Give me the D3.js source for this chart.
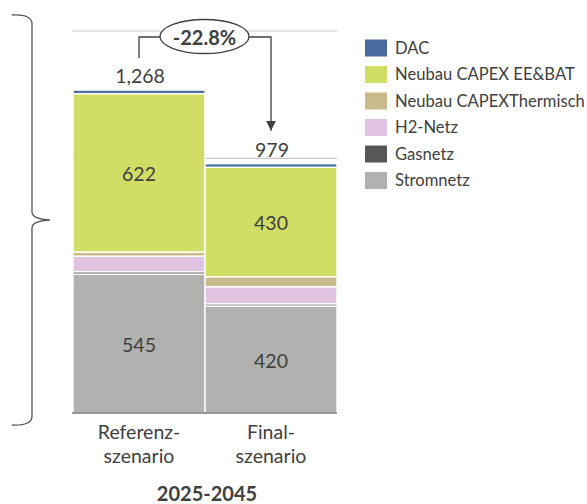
<!DOCTYPE html>
<html>
<head>
<meta charset="utf-8">
<script src="https://cdn.jsdelivr.net/npm/d3@7"></script>
<style>
  html, body { margin: 0; padding: 0; background: #fff; }
  svg { display: block; font-family: Lato, "Noto Sans", sans-serif; }
</style>
</head>
<body>
<svg id="chart" width="587" height="504"></svg>
<script>
// ---- data ----
const categories = ["Referenzszenario", "Finalszenario"];
const categoryLines = [["Referenz-", "szenario"], ["Final-", "szenario"]];
const seriesNames = ["Stromnetz", "Gasnetz", "H2-Netz", "Neubau CAPEXThermisch", "Neubau CAPEX EE&BAT", "DAC"];
const stromnetz = [545, 420];
const gasnetz = [10, 9];
const h2Netz = [61, 67];
const thermisch = [16, 39];
const eeBat = [622, 430];
const dac = [14, 14];
const totals = [1268, 979];
const gridTicks = [500, 1000, 1500];
const periodLabel = "2025-2045";
const legendOrder = ["DAC", "Neubau CAPEX EE&BAT", "Neubau CAPEXThermisch", "H2-Netz", "Gasnetz", "Stromnetz"];
const labelledSeries = ["Stromnetz", "Neubau CAPEX EE&BAT"];

const colors = {
  "DAC": "#4a6b9d",
  "Neubau CAPEX EE&BAT": "#d1de66",
  "Neubau CAPEXThermisch": "#c8bb89",
  "H2-Netz": "#e0c3e1",
  "Gasnetz": "#575757",
  "Stromnetz": "#b1b1b0"
};

const seriesValues = [stromnetz, gasnetz, h2Netz, thermisch, eeBat, dac];
const table = categories.map((c, i) => {
  const row = { category: c };
  seriesNames.forEach((s, j) => row[s] = seriesValues[j][i]);
  return row;
});

const svg = d3.select("#chart");
const textColor = "#404040";

const x = d3.scaleBand().domain(categories).range([73, 337]).paddingInner(0).paddingOuter(0);
const y = d3.scaleLinear().domain([0, 1500]).range([413, 31]);

// gridlines
svg.append("g").selectAll("line").data(gridTicks).join("line")
  .attr("x1", 72).attr("x2", 337)
  .attr("y1", d => y(d)).attr("y2", d => y(d))
  .attr("stroke", "#c8c8c8").attr("stroke-width", 1.2);

// stacked bars
const stack = d3.stack().keys(seriesNames);
const layers = stack(table);
const gBars = svg.append("g");
layers.forEach(layer => {
  gBars.append("g").selectAll("rect").data(layer).join("rect")
    .attr("x", d => x(d.data.category))
    .attr("width", x.bandwidth())
    .attr("y", d => y(d[1]))
    .attr("height", d => y(d[0]) - y(d[1]))
    .attr("fill", colors[layer.key])
    .attr("stroke", "#fff")
    .attr("stroke-width", 1.4);
});

// segment labels
layers.filter(l => labelledSeries.includes(l.key)).forEach(layer => {
  svg.append("g").selectAll("text").data(layer).join("text")
    .attr("x", d => x(d.data.category) + x.bandwidth() / 2)
    .attr("y", d => y((d[0] + d[1]) / 2) + 1)
    .attr("dy", "0.36em")
    .attr("text-anchor", "middle")
    .attr("font-size", 19.5)
    .attr("fill", textColor)
    .text(d => d3.format(",")(d[1] - d[0]));
});

// baseline
svg.append("line")
  .attr("x1", 72).attr("x2", 337).attr("y1", y(0)).attr("y2", y(0))
  .attr("stroke", "#777").attr("stroke-width", 1.6);

// totals
svg.append("g").selectAll("text").data(totals).join("text")
  .attr("x", (d, i) => x(categories[i]) + x.bandwidth() / 2 + 1)
  .attr("y", (d, i) => y(d) - 7)
  .attr("text-anchor", "middle")
  .attr("font-size", 19.5)
  .attr("fill", textColor)
  .text(d => d3.format(",")(d));

// change arrow
const cx1 = x(categories[0]) + x.bandwidth() / 2;
const cx2 = x(categories[1]) + x.bandwidth() / 2;
const arrowY = 37;
const ell = { cx: 204.5, cy: 36.5, rx: 44.5, ry: 17 };
svg.append("defs").append("marker")
  .attr("id", "arr").attr("viewBox", "0 0 10 10").attr("refX", 10).attr("refY", 5)
  .attr("markerWidth", 10).attr("markerHeight", 10).attr("markerUnits", "userSpaceOnUse")
  .attr("orient", "auto")
  .append("path").attr("d", "M0,0 L10,5 L0,10 Z").attr("fill", "#404040");
svg.append("path")
  .attr("d", `M${cx1},${y(totals[0]) - 32} V${arrowY} H${ell.cx - ell.rx}`)
  .attr("fill", "none").attr("stroke", "#404040").attr("stroke-width", 1.3);
svg.append("path")
  .attr("d", `M${ell.cx + ell.rx},${arrowY} H${cx2} V${y(totals[1]) - 33}`)
  .attr("fill", "none").attr("stroke", "#404040").attr("stroke-width", 1.3)
  .attr("marker-end", "url(#arr)");
svg.append("ellipse")
  .attr("cx", ell.cx).attr("cy", ell.cy).attr("rx", ell.rx).attr("ry", ell.ry)
  .attr("fill", "#fff").attr("stroke", "#404040").attr("stroke-width", 1.3);
svg.append("text")
  .attr("x", ell.cx).attr("y", ell.cy + 1).attr("dy", "0.36em")
  .attr("text-anchor", "middle").attr("font-size", 20).attr("font-weight", "bold")
  .attr("fill", textColor)
  .text(d3.format(".1%")(totals[1] / totals[0] - 1).replace("\u2212", "-"));

// category labels
categoryLines.forEach((lines, i) => {
  const t = svg.append("text")
    .attr("text-anchor", "middle").attr("font-size", 19.5).attr("fill", textColor);
  lines.forEach((ln, k) => {
    t.append("tspan").attr("x", x(categories[i]) + x.bandwidth() / 2)
      .attr("y", 439 + k * 24).text(ln);
  });
});

svg.append("text")
  .attr("x", 207).attr("y", 501)
  .attr("text-anchor", "middle").attr("font-size", 20).attr("font-weight", "bold")
  .attr("fill", textColor).text(periodLabel);

// brace
svg.append("path")
  .attr("d", "M12,15 Q32,14 32,24 L32,212 Q32,219 50,220 Q32,221 32,228 L32,416 Q32,426 12,425")
  .attr("fill", "none").attr("stroke", "#555").attr("stroke-width", 1.3);

// legend
const lg = svg.append("g");
legendOrder.forEach((name, i) => {
  const cy = 48 + i * 26.5;
  lg.append("rect").attr("x", 365).attr("y", cy - 8.5).attr("width", 22).attr("height", 17)
    .attr("fill", colors[name]);
  lg.append("text").attr("x", 395).attr("y", cy).attr("dy", "0.36em")
    .attr("font-size", 16.6).attr("fill", textColor).text(name);
});
</script>
</body>
</html>
